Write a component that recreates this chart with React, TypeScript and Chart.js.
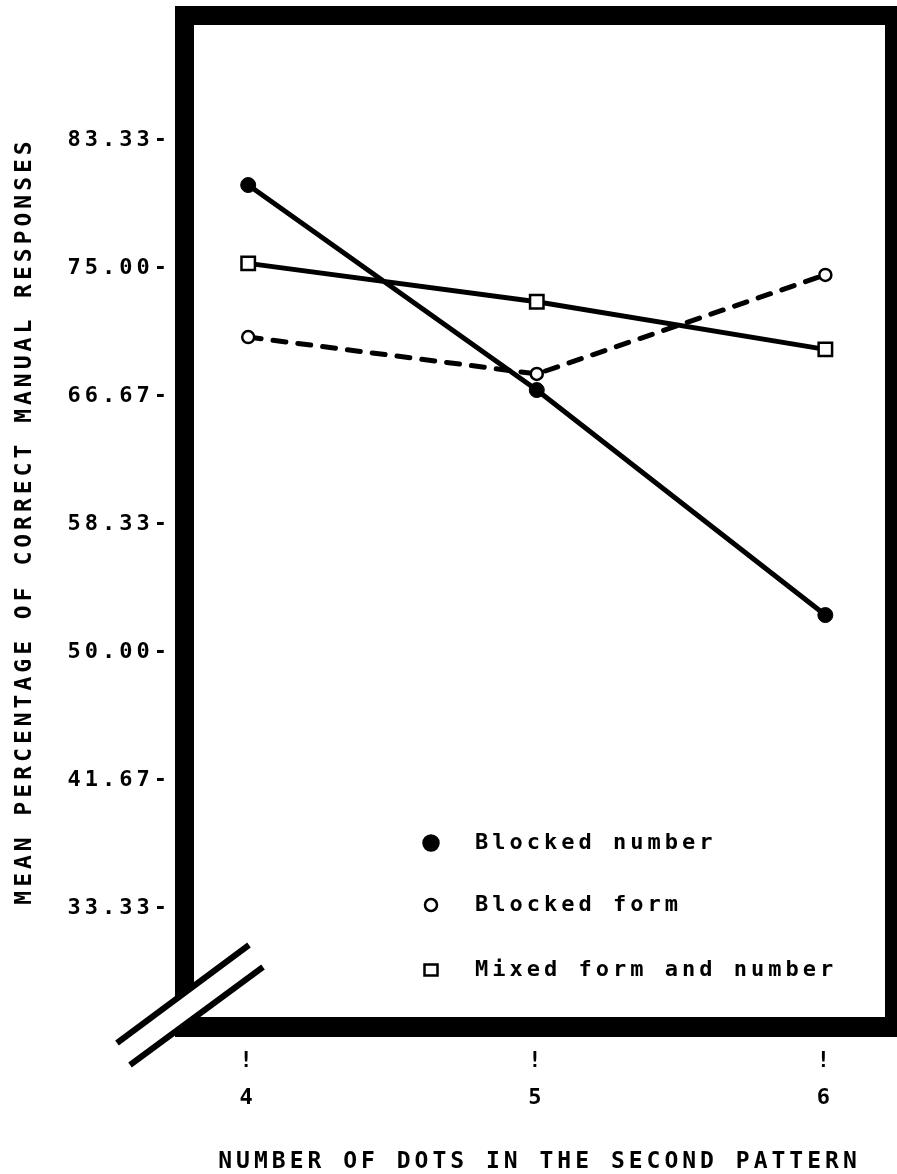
import { useEffect, useRef } from 'react';
import { Chart, registerables } from 'chart.js';

Chart.register(...registerables);

// Number of dots in the second pattern
const dotCounts = [4, 5, 6];

// Mean percentage of correct manual responses per condition
const blockedNumber = [80.4, 67.05, 52.4];
const blockedForm = [70.5, 68.1, 74.55];
const mixedFormNumber = [75.3, 72.8, 69.7];

const seriesLabels = ['Blocked number', 'Blocked form', 'Mixed form and number'];

const yTickValues = [33.33, 41.67, 50.0, 58.33, 66.67, 75.0, 83.33];
const xTickMark = '!';

const yTitle = 'MEAN PERCENTAGE OF CORRECT MANUAL RESPONSES';
const xTitle = 'NUMBER OF DOTS IN THE SECOND PATTERN';

const FONT = '"DejaVu Sans Mono", monospace';
const WEIGHT = 'bold';
const W = 897;
const H = 1174;
const LETTER_SPACING = '4px';
const FRAME = 19;

const toPoints = (ys: number[]) => dotCounts.map((x, i) => ({ x, y: ys[i] }));

// Wide plotter-style spacing for every piece of text on the canvas
const spacingPlugin = {
  id: 'plotterSpacing',
  beforeUpdate(chart: any) {
    chart.ctx.letterSpacing = LETTER_SPACING;
  },
  beforeDraw(chart: any) {
    chart.ctx.letterSpacing = LETTER_SPACING;
  },
};

// Keep the plot area exactly where the layout padding puts it
const noEdgePadding = (s: any) => {
  s.paddingTop = 0;
  s.paddingBottom = 0;
  s.paddingLeft = 0;
  s.paddingRight = 0;
};

// Heavy frame round the plot area, with an axis break at the lower-left corner
const framePlugin = {
  id: 'plotFrame',
  afterDraw(chart: any) {
    const { ctx, chartArea: a } = chart;
    const t = FRAME;
    ctx.save();
    ctx.fillStyle = '#000';
    ctx.fillRect(a.left - t, a.top - t, a.right - a.left + 2 * t, t);
    ctx.fillRect(a.left - t, a.top - t, t, a.bottom - a.top + 2 * t);
    ctx.fillRect(a.right, a.top - t, t, a.bottom - a.top + 2 * t);
    ctx.fillRect(a.left - t, a.bottom, a.right - a.left + 2 * t, t + 1);

    const ox = a.left;
    const oy = a.bottom;
    const l1 = [[-77, 26], [55, -72]];
    const l2 = [[-64, 48], [69, -50]];

    ctx.fillStyle = '#fff';
    ctx.beginPath();
    ctx.moveTo(ox + l1[0][0], oy + l1[0][1]);
    ctx.lineTo(ox + l1[1][0], oy + l1[1][1]);
    ctx.lineTo(ox + l2[1][0], oy + l2[1][1]);
    ctx.lineTo(ox + l2[0][0], oy + l2[0][1]);
    ctx.closePath();
    ctx.fill();

    ctx.strokeStyle = '#000';
    ctx.lineWidth = 6;
    ctx.lineCap = 'butt';
    [l1, l2].forEach((l) => {
      ctx.beginPath();
      ctx.moveTo(ox + l[0][0], oy + l[0][1]);
      ctx.lineTo(ox + l[1][0], oy + l[1][1]);
      ctx.stroke();
    });
    ctx.restore();
  },
};

// Key in the lower right of the plot area, built from the datasets
const keyPlugin = {
  id: 'seriesKey',
  afterDraw(chart: any) {
    const { ctx, chartArea: a } = chart;
    const rowOffsets = [174, 112, 47];
    chart.data.datasets.forEach((ds: any, i: number) => {
      const cx = a.left + 237;
      const cy = a.bottom - rowOffsets[i];
      ctx.save();
      ctx.lineWidth = 2.5;
      ctx.strokeStyle = '#000';
      ctx.fillStyle = ds.pointBackgroundColor;
      ctx.beginPath();
      if (ds.pointStyle === 'rect') {
        ctx.rect(cx - 6.5, cy - 5.5, 13, 11);
      } else {
        ctx.arc(cx, cy, ds.pointRadius, 0, Math.PI * 2);
      }
      ctx.fill();
      ctx.stroke();
      ctx.font = `${WEIGHT} 22px ${FONT}`;
      ctx.fillStyle = '#000';
      ctx.textAlign = 'left';
      ctx.textBaseline = 'middle';
      ctx.fillText(ds.label, a.left + 281, cy);
      ctx.restore();
    });
  },
};

export default function App() {
  const canvasRef = useRef<HTMLCanvasElement | null>(null);

  useEffect(() => {
    const canvas = canvasRef.current;
    if (!canvas) return;

    const chart = new Chart(canvas, {
      type: 'line',
      data: {
        datasets: [
          {
            label: seriesLabels[0],
            data: toPoints(blockedNumber),
            borderColor: '#000',
            borderWidth: 5,
            pointStyle: 'circle',
            pointRadius: 7.5,
            pointBackgroundColor: '#000',
            pointBorderColor: '#000',
            pointBorderWidth: 1,
            tension: 0,
          },
          {
            label: seriesLabels[1],
            data: toPoints(blockedForm),
            borderColor: '#000',
            borderWidth: 5,
            borderDash: [13, 12],
            borderCapStyle: 'round',
            pointStyle: 'circle',
            pointRadius: 6,
            pointBackgroundColor: '#fff',
            pointBorderColor: '#000',
            pointBorderWidth: 2.5,
            tension: 0,
          },
          {
            label: seriesLabels[2],
            data: toPoints(mixedFormNumber),
            borderColor: '#000',
            borderWidth: 5,
            pointStyle: 'rect',
            pointRadius: 9.5,
            pointBackgroundColor: '#fff',
            pointBorderColor: '#000',
            pointBorderWidth: 2.5,
            tension: 0,
          },
        ] as any,
      },
      options: {
        animation: false,
        responsive: false,
        devicePixelRatio: 1,
        layout: { padding: { top: 25, right: 8, left: 0, bottom: 0 } },
        plugins: {
          legend: { display: false },
          tooltip: { enabled: false },
        },
        scales: {
          x: {
            type: 'linear',
            min: 3.8122,
            max: 6.2067,
            grid: { display: false, drawTicks: false },
            border: { display: false },
            afterBuildTicks: (s: any) => {
              s.ticks = dotCounts.map((value) => ({ value }));
            },
            afterFit: (s: any) => {
              s.height = 157;
              noEdgePadding(s);
            },
            ticks: {
              color: '#000',
              padding: 26,
              maxRotation: 0,
              autoSkip: false,
              font: { family: FONT, size: 22, weight: WEIGHT, lineHeight: 37 / 22 },
              callback: (v: any) => [xTickMark, String(v)],
            },
            title: {
              display: true,
              text: xTitle,
              color: '#000',
              font: { family: FONT, size: 23, weight: WEIGHT, lineHeight: 1.2 },
              padding: { top: 0, bottom: -2 },
            },
          },
          y: {
            type: 'linear',
            min: 26.23,
            max: 90.82,
            grid: { display: false, drawTicks: false },
            border: { display: false },
            afterBuildTicks: (s: any) => {
              s.ticks = yTickValues.map((value) => ({ value }));
            },
            afterFit: (s: any) => {
              s.width = 194;
              noEdgePadding(s);
            },
            ticks: {
              color: '#000',
              padding: 23,
              autoSkip: false,
              font: { family: FONT, size: 22, weight: WEIGHT },
              callback: (v: any) => `${Number(v).toFixed(2)}-`,
            },
            title: {
              display: true,
              text: yTitle,
              color: '#000',
              font: { family: FONT, size: 23, weight: WEIGHT, lineHeight: 1.2 },
              padding: { top: 11, bottom: 0 },
            },
          },
        },
      } as any,
      plugins: [spacingPlugin, framePlugin, keyPlugin],
    });

    return () => chart.destroy();
  }, []);

  return (
    <div style={{ position: 'absolute', left: 0, top: 0, width: W, height: H, background: '#fff' }}>
      <canvas ref={canvasRef} width={W} height={H} style={{ display: 'block' }} />
    </div>
  );
}
